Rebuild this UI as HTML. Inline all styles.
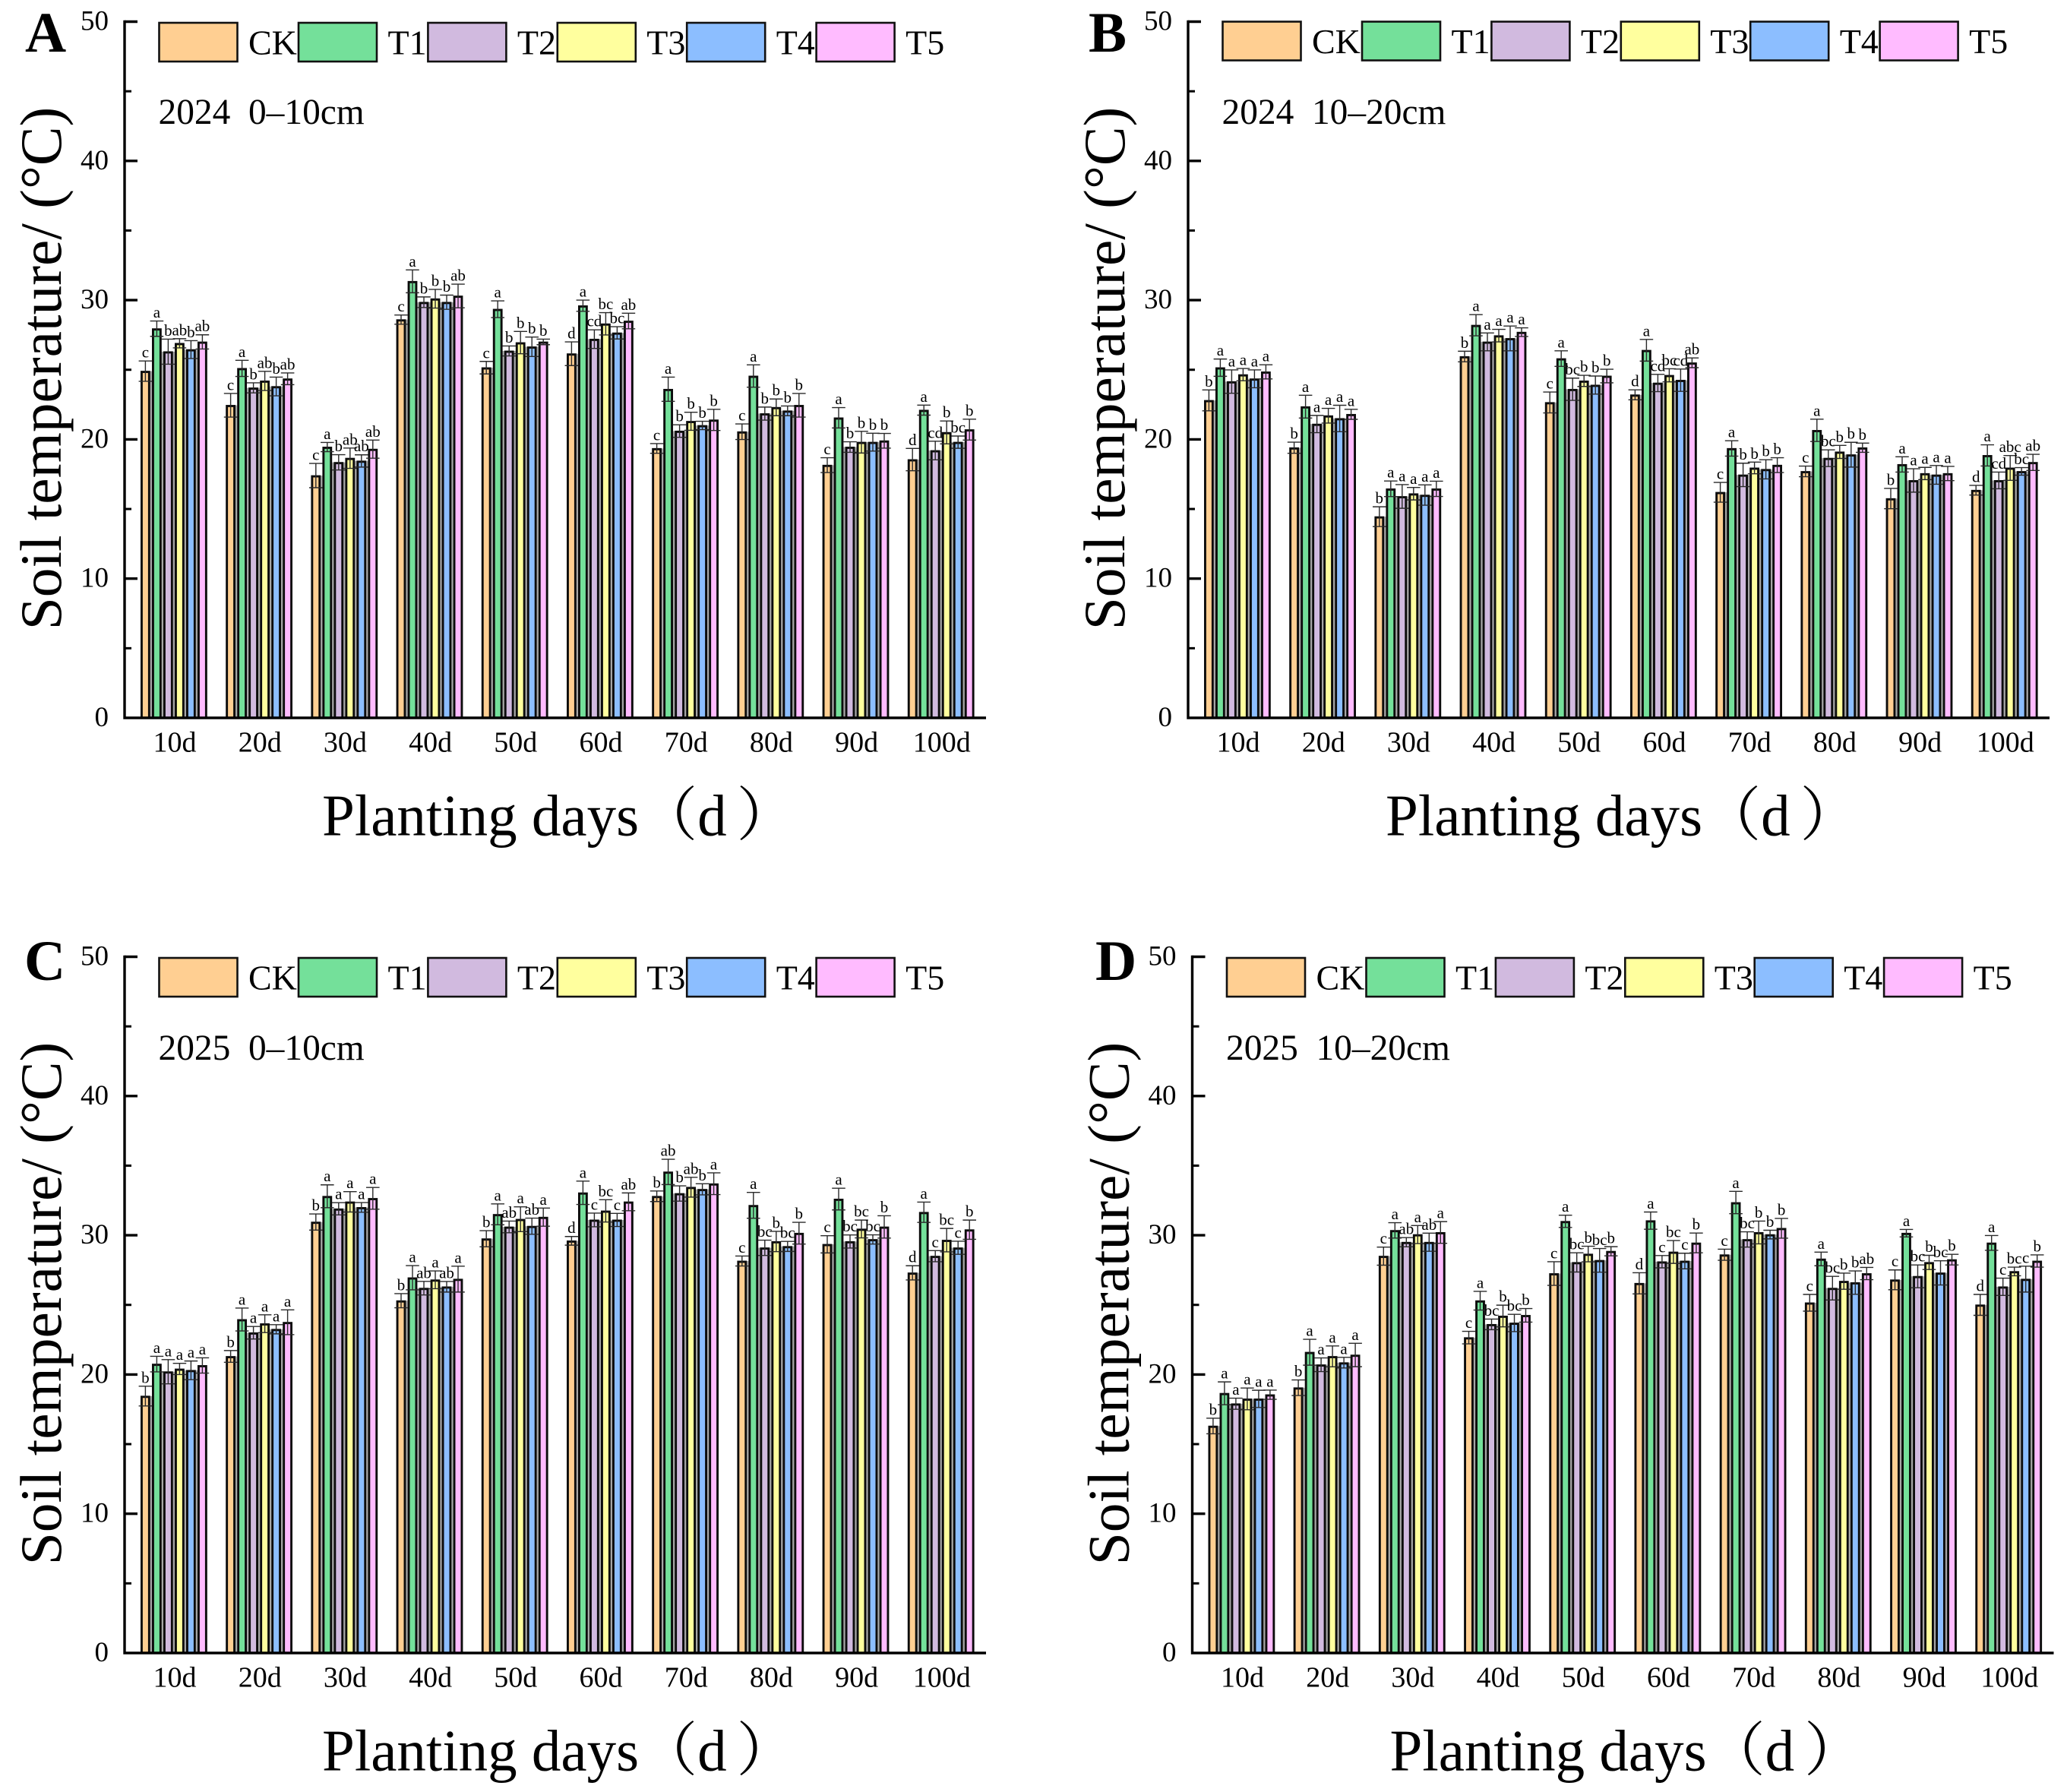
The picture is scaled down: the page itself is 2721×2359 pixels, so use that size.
<!DOCTYPE html>
<html lang="en">
<head>
<meta charset="utf-8">
<title>Soil temperature by planting days</title>
<style>
html,body{margin:0;padding:0;background:#fff;}
svg{display:block;}
text{font-family:"Liberation Serif","Noto Serif CJK SC",serif;fill:#000;white-space:pre;}
</style>
</head>
<body>
<svg id="chart" xmlns="http://www.w3.org/2000/svg" width="2721" height="2359" viewBox="0 0 2721 2359"></svg>
<script>
const categories = ['10d','20d','30d','40d','50d','60d','70d','80d','90d','100d'];
const seriesNames = ['CK','T1','T2','T3','T4','T5'];
const seriesColors = ['#FFCF92','#74E09A','#D1BADF','#FFFF9E','#8CBEFF','#FFBBFF'];
const yMajorTicks = [0,10,20,30,40,50];
const yMinorTicks = [5,15,25,35,45];

const panelAMeans = [
[24.9,27.95,26.3,26.9,26.45,27.0],
[22.45,25.1,23.7,24.2,23.8,24.35],
[17.4,19.45,18.35,18.65,18.45,19.3],
[28.6,31.35,29.85,30.1,29.85,30.3],
[25.15,29.35,26.35,26.95,26.65,27.0],
[26.15,29.6,27.2,28.3,27.65,28.5],
[19.35,23.6,20.6,21.3,21.0,21.4],
[20.55,24.55,21.85,22.3,22.05,22.45],
[18.15,21.55,19.45,19.8,19.8,19.9],
[18.55,22.1,19.2,20.5,19.8,20.7]];
const panelAErrors = [
[.73,.55,.9,.33,.64,.51],
[.85,.58,.36,.69,.67,.42],
[.87,.33,.55,.73,.44,.65],
[.33,.82,.38,.67,.51,.85],
[.45,.6,.36,.8,.7,.2],
[.85,.4,.67,.8,.44,.56],
[.35,.87,.45,.65,.3,.76],
[.56,.8,.47,.6,.35,.85],
[.53,.73,.38,.78,.64,.53],
[.8,.36,.67,.82,.44,.75]];
const panelALetters = [
['c','a','b','ab','b','ab'],
['c','a','b','ab','b','ab'],
['c','a','b','ab','ab','ab'],
['c','a','b','b','b','ab'],
['c','a','b','b','b','b'],
['d','a','cd','bc','bc','ab'],
['c','a','b','b','b','b'],
['c','a','b','b','b','b'],
['c','a','b','b','b','b'],
['d','a','cd','b','bc','b']];

const panelBMeans = [
[22.8,25.15,24.15,24.65,24.35,24.85],
[19.4,22.35,21.1,21.7,21.5,21.8],
[14.45,16.45,15.9,16.1,16.0,16.45],
[25.95,28.2,27.0,27.45,27.25,27.7],
[22.65,25.8,23.6,24.2,23.9,24.55],
[23.2,26.4,24.05,24.6,24.25,25.5],
[16.2,19.35,17.45,17.95,17.85,18.15],
[17.7,20.65,18.65,19.1,18.9,19.4],
[15.75,18.2,17.05,17.55,17.45,17.55],
[16.35,18.85,17.05,17.95,17.7,18.35]];
const panelBErrors = [
[.75,.62,.84,.44,.64,.51],
[.4,.82,.62,.53,.95,.36],
[.71,.56,.85,.45,.73,.55],
[.38,.76,.64,.45,.89,.31],
[.75,.56,.8,.4,.65,.49],
[.36,.78,.62,.47,.8,.35],
[.71,.55,.84,.42,.69,.53],
[.38,.8,.6,.47,.89,.33],
[.73,.55,.84,.44,.67,.51],
[.35,.76,.6,.89,.27,.58]];
const panelBLetters = [
['b','a','a','a','a','a'],
['b','a','a','a','a','a'],
['b','a','a','a','a','a'],
['b','a','a','a','a','a'],
['c','a','bc','b','b','b'],
['d','a','cd','bc','cd','ab'],
['c','a','b','b','b','b'],
['c','a','bc','b','b','b'],
['b','a','a','a','a','a'],
['d','a','cd','abc','bc','ab']];

const panelCMeans = [
[18.45,20.75,20.2,20.4,20.3,20.65],
[21.3,23.95,23.0,23.65,23.25,23.75],
[30.95,32.8,31.9,32.4,32.0,32.65],
[25.3,26.95,26.2,26.8,26.3,26.85],
[29.75,31.5,30.6,31.15,30.65,31.3],
[29.6,33.05,31.1,31.75,31.1,32.4],
[32.8,34.55,33.0,33.45,33.3,33.7],
[28.15,32.15,29.1,29.55,29.2,30.15],
[29.35,32.6,29.55,30.45,29.7,30.6],
[27.3,31.65,28.5,29.65,29.1,30.4]];
const panelCErrors = [
[.71,.56,.87,.4,.67,.55],
[.42,.82,.45,.64,.33,.89],
[.58,.82,.44,.73,.35,.78],
[.51,.87,.49,.64,.38,.93],
[.58,.75,.42,.89,.58,.65],
[.31,.84,.49,.8,.47,.64],
[.38,.91,.55,.71,.4,.78],
[.36,.93,.55,.73,.36,.78],
[.62,.78,.47,.64,.33,.8],
[.51,.73,.4,.84,.47,.69]];
const panelCLetters = [
['b','a','a','a','a','a'],
['b','a','a','a','a','a'],
['b','a','a','a','a','a'],
['b','a','ab','a','ab','a'],
['b','a','ab','a','ab','a'],
['d','a','c','bc','c','ab'],
['b','ab','b','ab','b','a'],
['c','a','bc','b','bc','b'],
['c','a','bc','bc','bc','b'],
['d','a','c','bc','c','b']];

const panelDMeans = [
[16.3,18.65,17.9,18.25,18.25,18.55],
[19.05,21.6,20.7,21.3,20.85,21.4],
[28.5,30.35,29.5,30.05,29.5,30.2],
[22.65,25.3,23.6,24.2,23.7,24.25],
[27.25,31.0,28.05,28.65,28.2,28.85],
[26.55,31.05,28.1,28.8,28.15,29.45],
[28.6,32.35,29.7,30.2,30.05,30.5],
[25.15,28.3,26.2,26.7,26.6,27.25],
[26.8,30.15,27.05,28.05,27.3,28.25],
[25.0,29.45,26.3,27.4,26.85,28.15]];
const panelDErrors = [
[.56,.82,.4,.78,.62,.33],
[.56,.93,.49,.75,.38,.84],
[.65,.55,.33,.65,.65,.78],
[.45,.67,.38,.78,.62,.49],
[.85,.44,.69,.56,.85,.33],
[.76,.62,.44,.82,.56,.71],
[.4,.8,.55,.82,.31,.71],
[.6,.49,.85,.58,.84,.44],
[.71,.27,.82,.51,.87,.38],
[.75,.53,.62,.31,.93,.44]];
const panelDLetters = [
['b','a','a','a','a','a'],
['b','a','a','a','a','a'],
['c','a','ab','a','ab','a'],
['c','a','bc','b','bc','b'],
['c','a','bc','b','bc','b'],
['d','a','c','bc','c','b'],
['c','a','bc','b','b','b'],
['c','a','bc','b','b','ab'],
['c','a','bc','b','bc','b'],
['d','a','c','bc','c','b']];

const SVGNS = 'http://www.w3.org/2000/svg';
const root = document.getElementById('chart');

function mk(parent, tag, attrs, text) {
  const node = document.createElementNS(SVGNS, tag);
  for (const k in attrs) node.setAttribute(k, attrs[k]);
  if (text !== undefined) node.textContent = text;
  parent.appendChild(node);
  return node;
}

const PX_PER_UNIT = 18.33;
const GROUP_STEP = 112.2;
const BAR_STEP = 15;
const BAR_WIDTH = 12.8;
const BAR_STROKE = 2.9;

function drawPanel(cfg) {
  const axisX = 164 + cfg.dx;
  const baseY = 945 + cfg.dy;
  const yScale = function (v) { return baseY - v * PX_PER_UNIT; };
  const groupLeft = function (g) { return axisX + 21 + g * GROUP_STEP; };
  const barLeft = function (g, s) { return groupLeft(g) + s * BAR_STEP; };

  const panel = mk(root, 'g', {});
  
  

  const letter = mk(panel, 'text', {x: 33 + cfg.dx + cfg.labelShift, y: cfg.labelY, 'font-size': 75, 'font-weight': 'bold'}, cfg.id);
  
  

  const yTitle = mk(panel, 'text', {transform: 'translate(' + (80 + cfg.dx) + ',' + (485 + cfg.dy) + ') rotate(-90)', 'text-anchor': 'middle', 'font-size': 77.4}, 'Soil temperature/ (°C)');
  
  

  const xTitle = mk(panel, 'text', {x: 424 + cfg.dx, y: 1099.5 + cfg.dy, 'font-size': 77}, 'Planting days（d');
  
  
  const closeParen = mk(xTitle, 'tspan', {dx: 13}, '）');
  
  

  const note = mk(panel, 'text', {x: 208.5 + cfg.dx, y: cfg.noteY, 'font-size': 47.4}, cfg.note);
  
  

  seriesNames.forEach(function (name, i) {
    const sx = (i === 0 ? 208.5 : 392 + (i - 1) * 170.4) + cfg.dx;
    const swatch = mk(panel, 'rect', {x: sx + 1, y: cfg.legendY, width: 103, height: 51, fill: seriesColors[i], stroke: '#111', 'stroke-width': 2.6});
    
    
    const label = mk(panel, 'text', {x: sx + 118.5, y: cfg.legendY + 41.5, 'font-size': 46}, name);
    
    
  });

  categories.forEach(function (cat, g) {
    const vals = cfg.means[g];
    const errs = cfg.errors[g];
    const lets = cfg.letters[g];

    vals.forEach(function (v, s) {
      if (s < vals.length - 1) {
        const gap = mk(panel, 'rect', {x: barLeft(g, s) + BAR_WIDTH, y: yScale(Math.min(v, vals[s + 1])), width: BAR_STEP - BAR_WIDTH, height: baseY - yScale(Math.min(v, vals[s + 1])), fill: '#a6a6a6'});
        
        
      }
    });

    vals.forEach(function (v, s) {
      const bar = mk(panel, 'rect', {x: barLeft(g, s) + BAR_STROKE / 2, y: yScale(v) + 1, width: BAR_WIDTH - BAR_STROKE, height: baseY - yScale(v) - 1, fill: seriesColors[s], stroke: '#0c0c0c', 'stroke-width': BAR_STROKE});
      
      
    });

    vals.forEach(function (v, s) {
      const cx = barLeft(g, s) + BAR_WIDTH / 2;
      const hi = yScale(v + errs[s]);
      const lo = yScale(v - errs[s]);
      const d = 'M' + cx + ' ' + hi + 'V' + lo + 'M' + (cx - 8.8) + ' ' + hi + 'H' + (cx + 8.8) + 'M' + (cx - 8.8) + ' ' + lo + 'H' + (cx + 8.8);
      const whisker = mk(panel, 'path', {d: d, fill: 'none', stroke: '#2a2a2a', 'stroke-width': 1.4});
      
      
      const sig = mk(panel, 'text', {x: cx, y: hi - 4.5, 'text-anchor': 'middle', 'font-size': 21}, lets[s]);
      
      
    });

    const tick = mk(panel, 'text', {x: groupLeft(g) + 45, y: baseY + 44.5, 'text-anchor': 'middle', 'font-size': 38}, cat);
    
    
  });

  const axes = mk(panel, 'path', {d: 'M' + axisX + ' ' + (yScale(50) - 1.7) + 'V' + baseY + 'H' + (axisX + 1134), fill: 'none', stroke: '#000', 'stroke-width': 3.4});
  
  

  yMajorTicks.forEach(function (v) {
    if (v > 0) {
      const mark = mk(panel, 'path', {d: 'M' + axisX + ' ' + yScale(v) + 'h17', stroke: '#000', 'stroke-width': 3.4});
      
      
    }
    const lab = mk(panel, 'text', {x: axisX - 21, y: yScale(v) + 11, 'text-anchor': 'end', 'font-size': 37}, String(v));
    
    
  });

  yMinorTicks.forEach(function (v) {
    const minor = mk(panel, 'path', {d: 'M' + axisX + ' ' + yScale(v) + 'h9', stroke: '#000', 'stroke-width': 3});
    
    
  });
}

drawPanel({id:'A', dx:0, dy:0, labelShift:0, labelY:68, legendY:30, noteY:163, note:'2024  0–10cm', means:panelAMeans, errors:panelAErrors, letters:panelALetters});
drawPanel({id:'B', dx:1400, dy:0, labelShift:0, labelY:68, legendY:28.5, noteY:163, note:'2024  10–20cm', means:panelBMeans, errors:panelBErrors, letters:panelBLetters});
drawPanel({id:'C', dx:0, dy:1231, labelShift:-1, labelY:1290, legendY:1261, noteY:1395, note:'2025  0–10cm', means:panelCMeans, errors:panelCErrors, letters:panelCLetters});
drawPanel({id:'D', dx:1405.5, dy:1231, labelShift:3.5, labelY:1290, legendY:1261, noteY:1395, note:'2025  10–20cm', means:panelDMeans, errors:panelDErrors, letters:panelDLetters});
</script>
</body>
</html>
